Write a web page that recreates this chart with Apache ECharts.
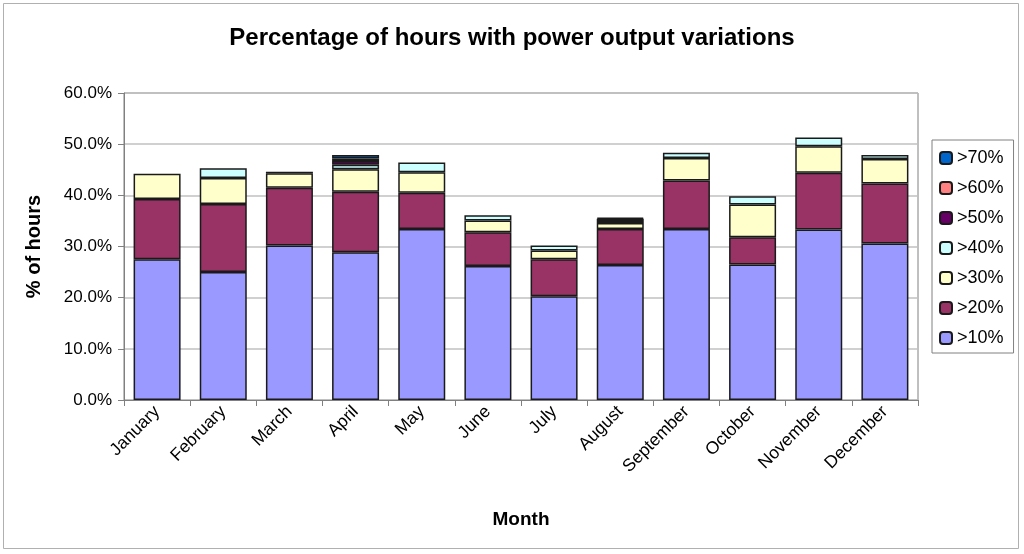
<!DOCTYPE html>
<html>
<head>
<meta charset="utf-8">
<script src="https://cdn.jsdelivr.net/npm/echarts@6/dist/echarts.min.js"></script>
<style>html,body{margin:0;padding:0;background:#fff;}#c{width:1024px;height:554px;}</style>
</head>
<body>
<div id="c"></div>
<script>
var months = ['January','February','March','April','May','June','July','August','September','October','November','December'];
var seriesNames = ['>10%','>20%','>30%','>40%','>50%','>60%','>70%'];
var s10 = [27.5, 25.0, 30.2, 28.9, 33.4, 26.2, 20.3, 26.4, 33.4, 26.5, 33.3, 30.6];
var s20 = [11.8, 13.3, 11.3, 11.8, 7.1, 6.6, 7.2, 7.0, 9.5, 5.3, 11.1, 11.7];
var s30 = [4.9, 5.1, 2.8, 4.4, 4.0, 2.3, 1.7, 1.2, 4.4, 6.4, 5.2, 4.8];
var s40 = [0.0, 1.9, 0.3, 0.9, 1.9, 1.0, 1.0, 0.4, 1.0, 1.6, 1.7, 0.8];
var s50 = [0.0, 0.0, 0.0, 0.7, 0.0, 0.0, 0.0, 0.4, 0.0, 0.0, 0.0, 0.0];
var s60 = [0.0, 0.0, 0.0, 0.5, 0.0, 0.0, 0.0, 0.2, 0.0, 0.0, 0.0, 0.0];
var s70 = [0.0, 0.0, 0.0, 0.7, 0.0, 0.0, 0.0, 0.0, 0.0, 0.0, 0.0, 0.0];
var yTicks = [0, 10, 20, 30, 40, 50, 60];
var colors = ['#9999FF','#993366','#FFFFCC','#CCFFFF','#660066','#FF8080','#0066CC'];
var allData = [s10, s20, s30, s40, s50, s60, s70];

var font = 'Liberation Sans, Arial, sans-serif';
var chart = echarts.init(document.getElementById('c'));
var series = seriesNames.map(function (n, i) {
  return {
    name: n,
    type: 'bar',
    stack: 'total',
    barWidth: 47,
    data: allData[i].map(function (v) { return v === 0 ? null : v; }),
    itemStyle: { color: colors[i], borderColor: '#1a1a1a', borderWidth: 1.5 }
  };
});
chart.setOption({
  animation: false,
  backgroundColor: '#fff',
  graphic: [
    { type: 'rect', shape: { x: 3.5, y: 3.5, width: 1015, height: 545 }, style: { fill: null, stroke: '#b0b0b0', lineWidth: 1 }, z: -1 },
    { type: 'rect', shape: { x: 124, y: 93, width: 794, height: 307 }, style: { fill: null, stroke: '#808080', lineWidth: 1 }, z: 0 }
  ],
  title: {
    text: 'Percentage of hours with power output variations',
    left: 'center', top: 21,
    textStyle: { fontFamily: font, fontSize: 24, fontWeight: 'bold', color: '#000' }
  },
  legend: {
    orient: 'vertical',
    left: 932, top: 140,
    data: seriesNames.slice().reverse(),
    itemWidth: 12, itemHeight: 12, itemGap: 12,
    padding: [9, 10, 6, 7],
    borderColor: '#808080', borderWidth: 1,
    textStyle: { fontFamily: font, fontSize: 18, color: '#000', lineHeight: 18 }
  },
  grid: { left: 124, right: 106, top: 93, bottom: 154 },
  xAxis: {
    type: 'category',
    data: months,
    name: 'Month', nameLocation: 'middle', nameGap: 110,
    nameTextStyle: { fontFamily: font, fontSize: 19, fontWeight: 'bold', color: '#000' },
    axisLine: { lineStyle: { color: '#808080' } },
    axisTick: { show: true, length: 6, lineStyle: { color: '#808080' } },
    axisLabel: { rotate: 45, fontFamily: font, fontSize: 17.5, color: '#000', margin: 9, interval: 0 }
  },
  yAxis: {
    type: 'value', min: 0, max: 60, interval: 10,
    name: '% of hours', nameLocation: 'middle', nameGap: 80, nameRotate: 90,
    nameTextStyle: { fontFamily: font, fontSize: 20, fontWeight: 'bold', color: '#000' },
    axisLine: { show: true, lineStyle: { color: '#808080' } },
    axisTick: { show: true, length: 6, lineStyle: { color: '#808080' } },
    splitLine: { lineStyle: { color: '#c0c0c0', width: 1.5 } },
    axisLabel: {
      fontFamily: font, fontSize: 17, color: '#000', margin: 12,
      formatter: function (v) { return yTicks.indexOf(v) >= 0 ? v.toFixed(1) + '%' : ''; }
    }
  },
  series: series
});
</script>
</body>
</html>
